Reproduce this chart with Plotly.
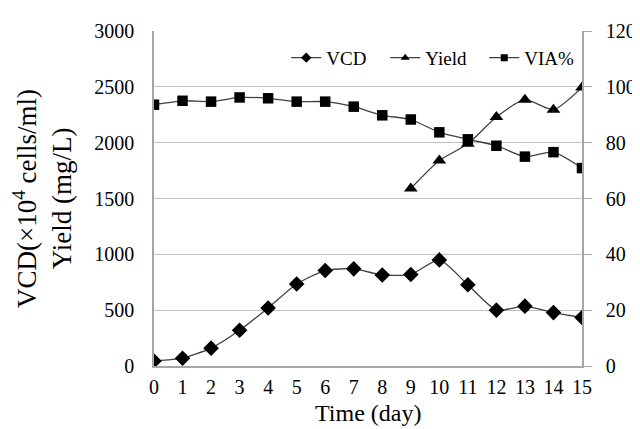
import plotly.graph_objects as go

days = list(range(16))
vcd = [45, 70, 160, 320, 520, 735, 855, 870, 815, 820, 950, 727, 500, 536, 478, 435]
yield_days = [9, 10, 11, 12, 13, 14, 15]
yield_mgL = [1590, 1840, 1990, 2230, 2385, 2295, 2495]
via = [93.6, 95.0, 94.7, 96.2, 95.9, 94.7, 94.7, 92.9, 89.8, 88.3, 83.7, 81.2, 78.9, 75.0, 76.6, 70.9]

series_names = ["VCD", "Yield", "VIA%"]
x_title = "Time (day)"
y_title = "VCD(×10<sup>4</sup> cells/ml)<br>Yield (mg/L)"

font_family = "Liberation Serif, Times New Roman, serif"
line_col = "#404040"
line_style = dict(color=line_col, width=1.3, shape="spline", smoothing=0.6)

fig = go.Figure()
fig.add_trace(go.Scatter(
    x=days, y=vcd, name=series_names[0], mode="lines+markers", showlegend=False,
    line=line_style, marker=dict(symbol="diamond", size=12, color="black"),
))
fig.add_trace(go.Scatter(
    x=yield_days, y=yield_mgL, name=series_names[1], mode="lines+markers", showlegend=False,
    line=line_style, marker=dict(symbol="triangle-up", size=12, color="black"),
))
fig.add_trace(go.Scatter(
    x=days, y=via, name=series_names[2], mode="lines+markers", yaxis="y2", showlegend=False,
    line=line_style, marker=dict(symbol="square", size=10.5, color="black"),
))
# legend entries (smaller symbols, as in the reference legend)
for nm, sym, sz in zip(series_names, ["diamond", "triangle-up", "square"], [8, 8, 7]):
    fig.add_trace(go.Scatter(
        x=[None], y=[None], name=nm, mode="lines+markers",
        line=dict(color=line_col, width=1.3), marker=dict(symbol=sym, size=sz, color="black"),
    ))

fig.add_annotation(text=x_title, xref="paper", yref="paper", x=0.5, y=-0.1397,
                   xanchor="center", yanchor="middle", showarrow=False,
                   font=dict(size=24))

fig.update_layout(
    width=640, height=429,
    margin=dict(l=144, r=63, t=18, b=71),
    paper_bgcolor="white", plot_bgcolor="white",
    font=dict(family=font_family, size=20, color="black"),
    showlegend=True,
    legend=dict(orientation="h", x=0.309, xanchor="left", y=0.92, yanchor="middle",
                bgcolor="rgba(0,0,0,0)", font=dict(size=19), itemwidth=30,
                entrywidth=54, entrywidthmode="pixels",
                tracegroupgap=0, traceorder="normal"),
    xaxis=dict(
        range=[0, 15], tickmode="linear", tick0=0, dtick=1,
        showgrid=False, showline=True, linecolor="#a6a6a6", linewidth=1.5,
        ticks="", zeroline=False, ticklabelstandoff=2,
        tickfont=dict(size=20),
    ),
    yaxis=dict(
        range=[0, 3000], tickmode="linear", tick0=0, dtick=500,
        showgrid=True, gridcolor="#bfbfbf", gridwidth=1.2,
        showline=True, linecolor="#a6a6a6", linewidth=1.5,
        ticks="", zeroline=False, ticklabelstandoff=14,
        title=dict(text=y_title, font=dict(size=27), standoff=20),
        tickfont=dict(size=20),
    ),
    yaxis2=dict(
        range=[0, 120], tickmode="linear", tick0=0, dtick=20,
        overlaying="y", side="right", showgrid=False,
        showline=True, linecolor="#a6a6a6", linewidth=1.5,
        ticks="outside", ticklen=8, tickcolor="#a6a6a6", zeroline=False,
        ticklabelstandoff=10,
        tickfont=dict(size=20),
    ),
)

fig.write_html("out.html")
